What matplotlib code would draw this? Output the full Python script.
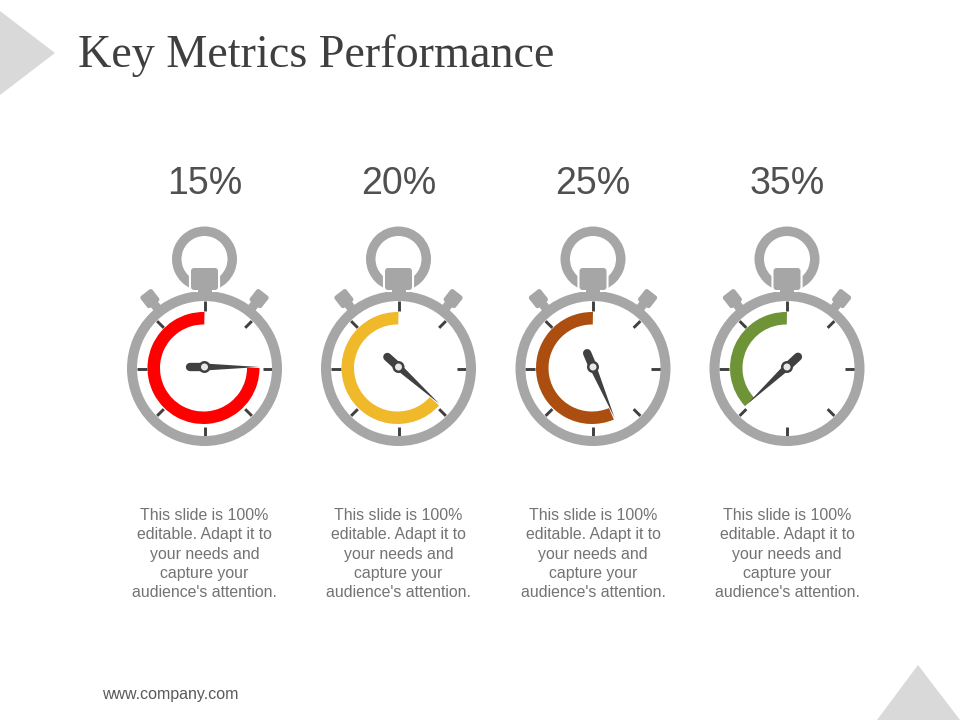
"""Key Metrics Performance slide: four stopwatch gauges."""
import numpy as np
import matplotlib

matplotlib.use("Agg")
import matplotlib.pyplot as plt
from matplotlib.patches import Circle, FancyBboxPatch, Polygon, Wedge
from matplotlib.transforms import Affine2D

labels = ["15%", "20%", "25%", "35%"]
arc_sweeps = [270, 228, 203, 133]  # degrees counter-clockwise from 12 o'clock
arc_colors = ["#fe0000", "#f0b92a", "#ab4e10", "#6f9337"]
caption = "This slide is 100%\neditable. Adapt it to\nyour needs and\ncapture your\naudience's attention."
centers_x = [204.5, 398.5, 593, 787]

GREY = "#a6a6a6"
DARK = "#404040"
W, H = 960, 720
CY = H - 368.5

plt.rcParams["font.family"] = ["Liberation Sans", "DejaVu Sans"]
fig = plt.figure(figsize=(9.6, 7.2), dpi=100)
ax = fig.add_axes([0, 0, 1, 1])
ax.set_xlim(0, W)
ax.set_ylim(0, H)
ax.axis("off")


def rounded_box(cx, cy, w, h, angle, color, pad=2.5, z=3, edge="none", lw=0):
    box = FancyBboxPatch(
        (cx - w / 2 + pad, cy - h / 2 + pad), w - 2 * pad, h - 2 * pad,
        boxstyle=f"round,pad={pad},rounding_size={pad}",
        fc=color, ec=edge, lw=lw, zorder=z,
    )
    box.set_transform(Affine2D().rotate_deg_around(cx, cy, angle) + ax.transData)
    ax.add_patch(box)


def stopwatch(cx, sweep, color):
    # crown ring
    ax.add_patch(Wedge((cx, H - 259), 32.5, 0, 360, width=9.5, fc=GREY, ec="none", zorder=1))

    # side pushers
    for side in (-1, 1):
        a = np.deg2rad(38)
        px = cx + side * 88.7 * np.sin(a)
        py = CY + 88.7 * np.cos(a)
        sx = cx + side * 77 * np.sin(a)
        sy = CY + 77 * np.cos(a)
        rounded_box(px, py, 15, 15, -side * 38, GREY)
        rounded_box(sx, sy, 9, 16, -side * 38, GREY, pad=0.5)

    # case
    ax.add_patch(Wedge((cx, CY), 77.5, 0, 360, width=10, fc=GREY, ec="none", zorder=2))

    # crown stem with white halo that cuts the ring
    rounded_box(cx, H - 279, 27, 22, 0, GREY, pad=3, z=3, edge="white", lw=3)
    ax.add_patch(Polygon(
        [(cx - 7, H - 288), (cx + 7, H - 288), (cx + 7, H - 300), (cx - 7, H - 300)],
        fc=GREY, ec="none", zorder=4,
    ))
    rounded_box(cx, H - 279, 27, 22, 0, GREY, pad=3, z=4)

    # ticks
    for k in range(8):
        t = np.deg2rad(45 * k)
        r0, r1 = (58, 68) if k % 2 == 0 else (57.5, 67)
        ax.plot(
            [cx + r0 * np.cos(t), cx + r1 * np.cos(t)],
            [CY + r0 * np.sin(t), CY + r1 * np.sin(t)],
            color=DARK, lw=2.1, solid_capstyle="butt", zorder=1.5,
        )

    # coloured arc
    ax.add_patch(Wedge((cx - 1, H - 368), 56, 89, 90 + sweep, width=12.5, fc=color, ec="none", zorder=5))

    # needle, the tip sits at the end of the arc
    t = np.deg2rad(90 + sweep)
    hub_y = H - 367
    ux, uy = np.cos(t), np.sin(t)
    nx, ny = -uy, ux
    ax.add_patch(Polygon(
        [(cx + nx * 3.5, hub_y + ny * 3.5), (cx - nx * 3.5, hub_y - ny * 3.5), (cx + ux * 55, hub_y + uy * 55)],
        fc=DARK, ec="none", zorder=6,
    ))
    ax.plot(
        [cx, cx - ux * 15], [hub_y, hub_y - uy * 15],
        color=DARK, lw=6, solid_capstyle="round", zorder=6,
    )
    ax.add_patch(Circle((cx, hub_y), 6, fc=DARK, ec="none", zorder=7))
    ax.add_patch(Circle((cx, hub_y), 3.5, fc="#e8e8e8", ec="none", zorder=8))


# corner triangles
ax.add_patch(Polygon([(0, H - 11), (55, H - 53), (0, H - 95)], fc="#d9d9d9", ec="none"))
ax.add_patch(Polygon([(877, 0), (918, H - 665), (960, 0)], fc="#d9d9d9", ec="none"))

ax.text(78, H - 67, "Key Metrics Performance", family="Liberation Serif", fontsize=33.2,
        color="#3f3f3f", ha="left", va="baseline")

for cx, label, sweep, color in zip(centers_x, labels, arc_sweeps, arc_colors):
    ax.text(cx, H - 194, label, fontsize=27, color="#505050", ha="center", va="baseline")
    stopwatch(cx, sweep, color)
    ax.text(cx, H - 554, caption, fontsize=11.4, color="#737373", ha="center", va="center",
            linespacing=1.34)

ax.text(102.5, H - 694, "www.company.com", fontsize=11.5, color="#595959", ha="left", va="center")

fig.savefig("out.png", dpi=100, facecolor="white")
